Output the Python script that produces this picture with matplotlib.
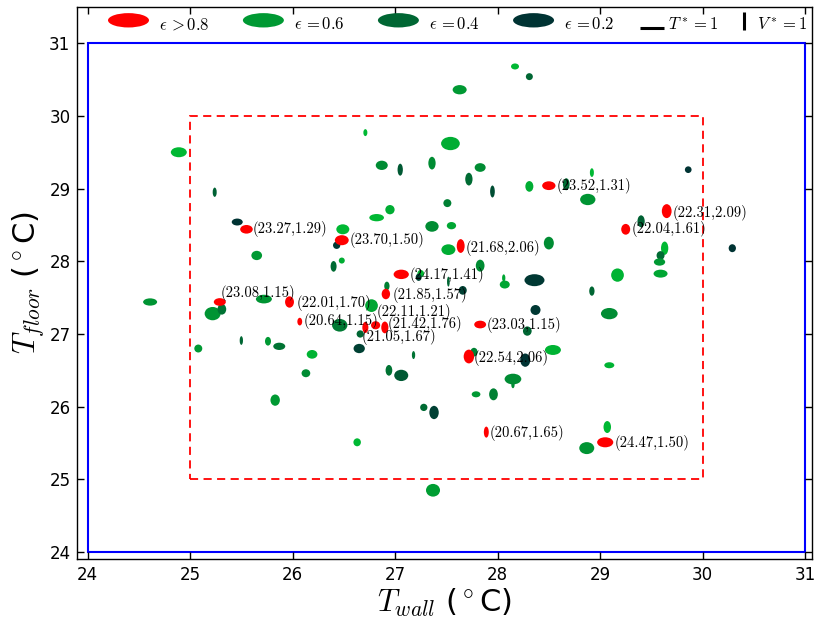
import matplotlib
matplotlib.use("Agg")
import matplotlib.pyplot as plt
from matplotlib.patches import Ellipse, Rectangle, Patch
from matplotlib.lines import Line2D
from matplotlib.legend_handler import HandlerBase

plt.rcParams["mathtext.fontset"] = "cm"

# ---- measured comfort points -------------------------------------------
# wall / floor surface temperatures (degC), air temperature (degC),
# air speed and emissivity-like index used for the colour
t_wall_g = [28.17, 28.31, 27.63, 26.71, 27.54, 24.89, 26.87, 27.05, 27.36, 27.83,
            29.86, 28.92, 27.72, 28.31, 28.67, 27.95, 25.24, 28.88, 27.51, 26.95,
            26.82, 29.40, 25.46, 27.36, 27.55, 26.49, 26.43, 27.52, 28.50, 30.29,
            29.63, 29.59, 29.58, 25.65, 26.48, 26.40, 27.83, 27.25, 27.23, 29.59,
            29.17, 28.36, 28.06, 27.52, 28.07, 27.66, 28.92, 26.92, 24.61, 25.22,
            25.31, 25.72, 26.77, 28.37, 29.09, 26.46, 28.29, 26.66, 25.50, 25.76,
            25.87, 25.08, 26.65, 27.77, 28.54, 28.27, 27.18, 26.19, 29.09, 26.13,
            26.94, 27.06, 28.15, 28.15, 27.79, 27.96, 25.83, 27.28, 27.38, 29.07,
            26.63, 28.87, 27.37]
t_floor_g = [30.68, 30.54, 30.36, 29.77, 29.62, 29.50, 29.32, 29.26, 29.35, 29.29,
             29.26, 29.22, 29.13, 29.03, 29.06, 28.96, 28.95, 28.85, 28.80, 28.71,
             28.60, 28.55, 28.54, 28.48, 28.49, 28.44, 28.22, 28.16, 28.25, 28.18,
             28.18, 28.08, 27.99, 28.08, 28.01, 27.93, 27.94, 27.83, 27.78, 27.83,
             27.81, 27.74, 27.77, 27.72, 27.68, 27.60, 27.59, 27.66, 27.44, 27.28,
             27.34, 27.48, 27.39, 27.33, 27.28, 27.12, 27.04, 27.00, 26.91, 26.90,
             26.83, 26.80, 26.80, 26.75, 26.78, 26.64, 26.71, 26.72, 26.57, 26.46,
             26.50, 26.43, 26.38, 26.30, 26.17, 26.17, 26.09, 25.99, 25.92, 25.72,
             25.51, 25.43, 24.85]
t_air_g = [21.71, 21.37, 23.75, 20.36, 25.34, 24.42, 23.07, 20.80, 21.47, 22.73,
           21.27, 20.36, 21.47, 21.71, 21.27, 20.59, 20.36, 24.19, 21.71, 22.15,
           23.98, 21.47, 22.73, 23.51, 22.15, 23.41, 21.47, 23.75, 22.39, 21.47,
           21.47, 21.71, 22.83, 22.63, 21.03, 21.03, 21.95, 21.27, 21.03, 23.75,
           23.31, 25.78, 20.12, 19.92, 22.39, 21.71, 20.80, 20.80, 23.75, 24.42,
           21.95, 24.42, 23.31, 22.39, 24.66, 24.19, 21.95, 21.47, 20.12, 21.03,
           23.07, 21.71, 22.83, 21.47, 24.42, 22.39, 20.12, 22.63, 22.39, 21.95,
           21.27, 23.75, 24.66, 20.12, 21.95, 21.95, 22.19, 21.47, 22.19, 21.54,
           21.54, 24.08, 23.75]
v_air_g = [0.90, 1.04, 1.39, 1.04, 1.99, 1.49, 1.39, 1.79, 1.90, 1.30,
           1.00, 1.30, 1.90, 1.60, 1.79, 1.79, 1.39, 1.69, 1.19, 1.39,
           1.09, 1.79, 1.04, 1.60, 1.09, 1.49, 1.09, 1.60, 1.90, 1.19,
           1.99, 1.30, 1.09, 1.39, 0.90, 1.60, 1.79, 1.09, 1.09, 1.19,
           1.99, 1.79, 1.09, 1.49, 1.19, 1.30, 1.39, 1.30, 1.09, 1.99,
           1.60, 1.30, 1.90, 1.49, 1.69, 1.90, 1.39, 1.09, 1.30, 1.30,
           1.09, 1.19, 1.39, 1.30, 1.49, 1.99, 1.19, 1.30, 0.90, 1.19,
           1.60, 1.69, 1.60, 1.00, 0.90, 1.79, 1.69, 1.09, 1.99, 1.79,
           1.19, 1.79, 1.90]
eps_g = [0.72, 0.40, 0.60, 0.72, 0.68, 0.72, 0.55, 0.35, 0.55, 0.55,
         0.20, 0.72, 0.42, 0.68, 0.42, 0.30, 0.38, 0.58, 0.50, 0.68,
         0.72, 0.38, 0.20, 0.55, 0.65, 0.72, 0.22, 0.68, 0.55, 0.20,
         0.72, 0.42, 0.60, 0.60, 0.68, 0.42, 0.55, 0.72, 0.25, 0.65,
         0.70, 0.22, 0.65, 0.40, 0.65, 0.25, 0.40, 0.50, 0.58, 0.58,
         0.45, 0.58, 0.65, 0.22, 0.55, 0.48, 0.40, 0.40, 0.40, 0.60,
         0.45, 0.60, 0.25, 0.50, 0.70, 0.20, 0.45, 0.70, 0.70, 0.55,
         0.45, 0.35, 0.55, 0.55, 0.60, 0.50, 0.60, 0.42, 0.25, 0.72,
         0.72, 0.58, 0.62]

# points with index above 0.8 (annotated with air temperature, air speed)
t_wall_r = [25.55, 26.48, 28.50, 29.65, 29.25, 27.64, 27.06, 26.91, 25.29,
            25.97, 26.07, 26.81, 26.90, 26.71, 27.83, 27.72, 27.89, 29.05]
t_floor_r = [28.44, 28.29, 29.04, 28.69, 28.44, 28.21, 27.82, 27.55, 27.44,
             27.44, 27.17, 27.12, 27.09, 27.09, 27.13, 26.69, 25.65, 25.51]
t_air_r = [23.27, 23.70, 23.52, 22.31, 22.04, 21.68, 24.17, 21.85, 23.08,
           22.01, 20.64, 22.11, 21.42, 21.05, 23.03, 22.54, 20.67, 24.47]
v_air_r = [1.29, 1.50, 1.31, 2.09, 1.61, 2.06, 1.41, 1.57, 1.15,
           1.70, 1.15, 1.21, 1.76, 1.67, 1.15, 2.06, 1.65, 1.50]
eps_r = [0.9] * len(t_wall_r)

legend_labels = [r"$\epsilon\,{>}0.8$", r"$\epsilon\,{=}0.6$",
                 r"$\epsilon\,{=}0.4$", r"$\epsilon\,{=}0.2$"]
legend_eps = [0.9, 0.6, 0.4, 0.2]
ref_labels = [r"$T^*{=}1$", r"$V^*{=}1$"]

# annotation offsets (points) for the red points, same order as above
label_offsets = [(4.3, 0), (5.8, 0), (5.8, 0), (4.3, -1.4), (4.3, 0), (3.6, -1.4),
                 (5.8, -0.7), (5.0, -0.7), (0.7, 6.5), (5.0, -0.7), (2.9, 0.7),
                 (0.7, 9.4), (2.2, 2.2), (-2.9, -7.2), (5.0, 0), (3.6, -1.4),
                 (2.2, -0.7), (6.8, -0.7)]

# ellipse size scaling (data units per degC above base / per m/s)
W_PER_DEG = 0.0288
T_BASE = 19.0
H_PER_SPEED = 0.092


def eps_colour(e):
    if e > 0.8:
        return (1.0, 0.0, 0.0)
    return (0.0, e, 0.2)


fig = plt.figure(figsize=(8.15, 6.23), dpi=100)
ax = fig.add_axes([0.0949, 0.1022, 0.9011, 0.8868])

ax.add_patch(Rectangle((24, 24), 7, 7, fill=False, edgecolor="blue", lw=1.5, zorder=1))
ax.add_patch(Rectangle((25, 25), 5, 5, fill=False, edgecolor="red", lw=1.3,
                       linestyle=(0, (4.5, 3.0)), zorder=1))

for tw, tf, ta, va, e in zip(t_wall_g + t_wall_r, t_floor_g + t_floor_r,
                             t_air_g + t_air_r, v_air_g + v_air_r, eps_g + eps_r):
    ax.add_patch(Ellipse((tw, tf), (ta - T_BASE) * W_PER_DEG, va * H_PER_SPEED,
                         facecolor=eps_colour(e), edgecolor="none", zorder=2))

for tw, tf, ta, va, off in zip(t_wall_r, t_floor_r, t_air_r, v_air_r, label_offsets):
    ax.annotate(f"({ta:.2f},{va:.2f})", (tw, tf), xytext=off,
                textcoords="offset points", ha="left", va="center",
                fontsize=10.5, family="cmr10", zorder=3)

ax.set_xlim(23.9, 31.065)
ax.set_ylim(23.9, 31.5)
ax.set_xticks(range(24, 32))
ax.set_yticks(range(24, 32))
ax.tick_params(direction="in", top=True, right=True, length=5, width=1,
               labelsize=12, pad=5)
for s in ax.spines.values():
    s.set_linewidth(1.0)

ax.set_xlabel(r"$T_{wall}$ ($^\circ$C)", fontsize=22, labelpad=2)
ax.set_ylabel(r"$T_{floor}$ ($^\circ$C)", fontsize=22, labelpad=2)


class EllipseHandler(HandlerBase):
    def create_artists(self, legend, orig_handle, xdescent, ydescent, width, height,
                       fontsize, trans):
        e = Ellipse((0.5 * width - xdescent, 0.54 * fontsize), width, 0.86 * fontsize,
                    facecolor=orig_handle.get_facecolor(), edgecolor="none",
                    transform=trans)
        return [e]


class HBarHandler(HandlerBase):
    def create_artists(self, legend, orig_handle, xdescent, ydescent, width, height,
                       fontsize, trans):
        ln = Line2D([-xdescent, width - xdescent], [0.6, 0.6], color="black",
                    lw=2.2, solid_capstyle="butt", transform=trans)
        return [ln]


class VBarHandler(HandlerBase):
    def create_artists(self, legend, orig_handle, xdescent, ydescent, width, height,
                       fontsize, trans):
        x = width - xdescent - 5.8
        ln = Line2D([x, x], [-0.7, 12.2], color="black", lw=2.2,
                    solid_capstyle="butt", transform=trans)
        return [ln]


eps_handles = [Patch(facecolor=eps_colour(e)) for e in legend_eps]
fig.legend(eps_handles, legend_labels, loc="center left",
           bbox_to_anchor=(108 / 815, 0.961), ncol=4, frameon=False,
           fontsize=12, handlelength=2.46, handletextpad=0.6,
           columnspacing=2.0, borderpad=0, borderaxespad=0,
           handler_map={Patch: EllipseHandler()})

t_handle = Line2D([], [], color="black")
v_handle = Line2D([], [], color="black", ls=":")
fig.legend([t_handle, v_handle], ref_labels, loc="center left",
           bbox_to_anchor=(640 / 815, 0.961), ncol=2, frameon=False,
           fontsize=12, handlelength=1.44, handletextpad=0.24,
           columnspacing=0.6, borderpad=0, borderaxespad=0,
           handler_map={t_handle: HBarHandler(), v_handle: VBarHandler()})

fig.savefig("out.png", dpi=100)
